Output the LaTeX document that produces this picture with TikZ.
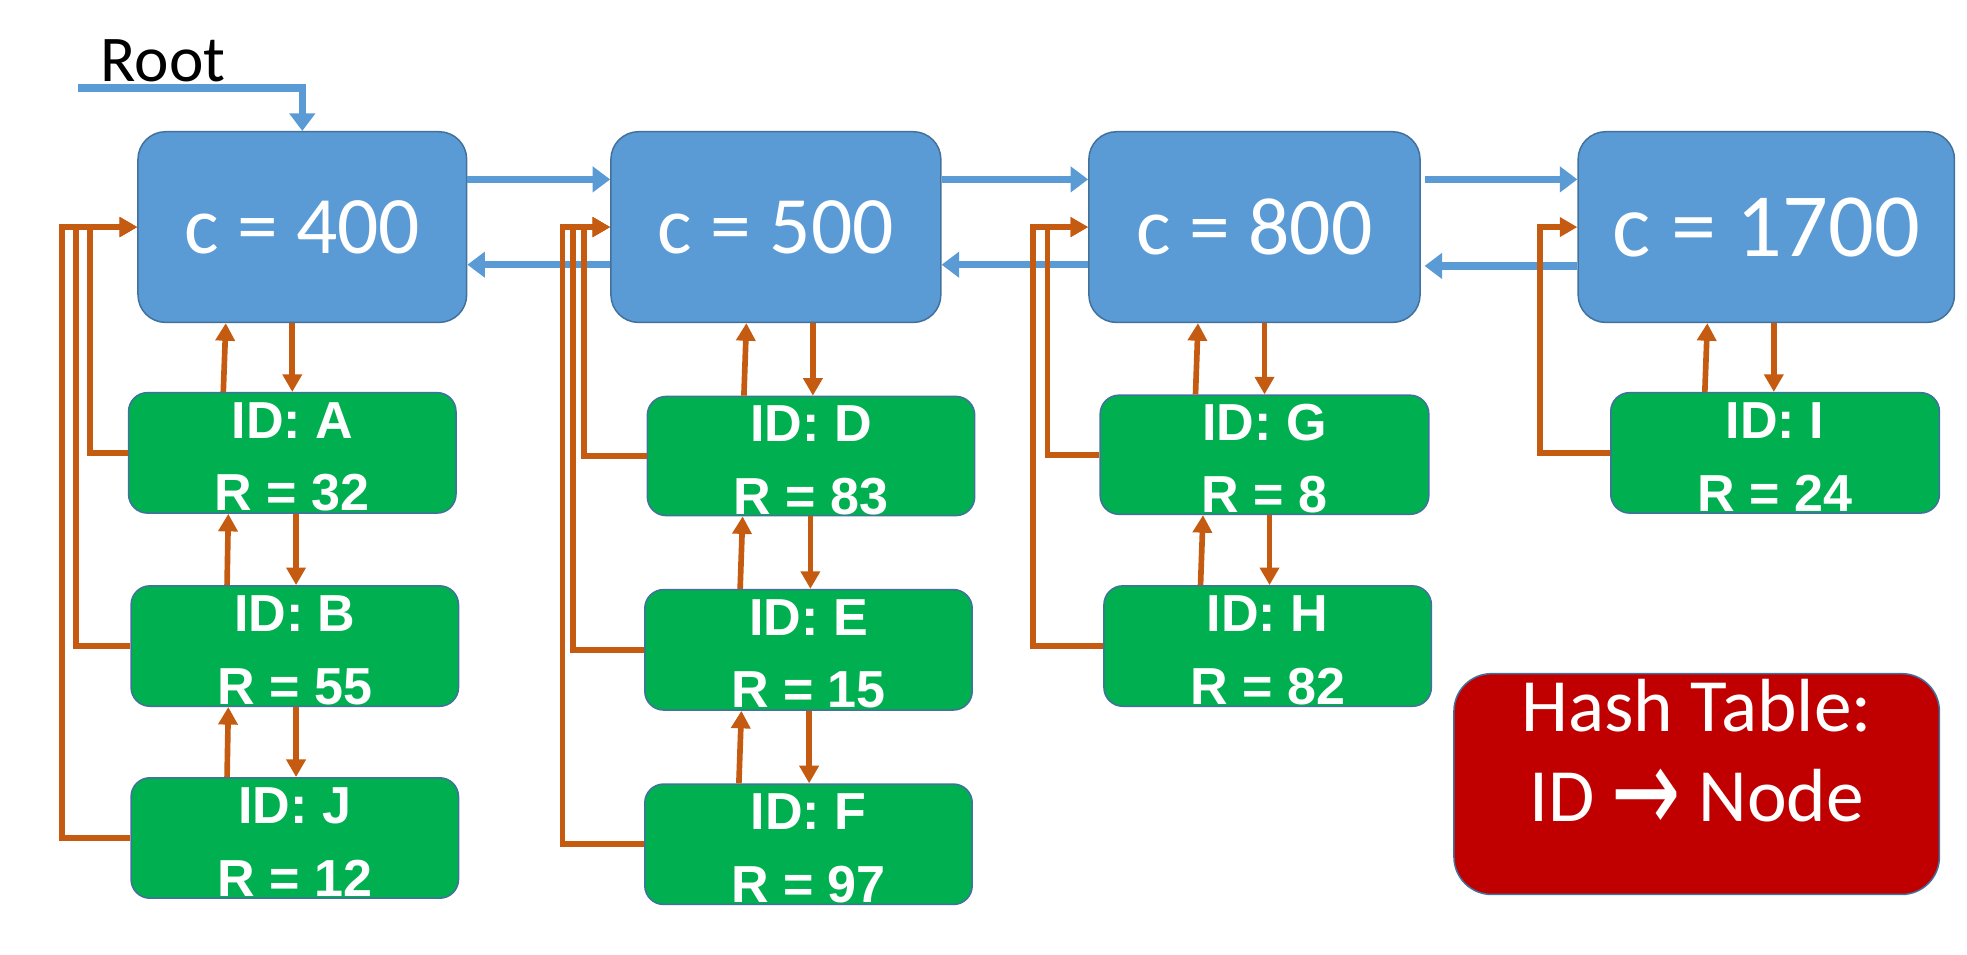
\documentclass[tikz,border=0pt]{standalone}
\usepackage{fontspec}
\setmainfont{Carlito}
\newfontfamily\lsans{Liberation Sans}
\newfontfamily\dejavu{DejaVu Sans}
\usetikzlibrary{arrows.meta,calc}
\definecolor{boxblue}{HTML}{5B9BD5}
\definecolor{edgeblue}{HTML}{41719C}
\definecolor{boxgreen}{HTML}{00B050}
\definecolor{boxred}{HTML}{C00000}
\definecolor{linkorange}{HTML}{C55A11}
\newcommand\gstrut{\rule{0pt}{35pt}}
\begin{document}
\begin{tikzpicture}[x=1pt,y=-1pt,
  cbox/.style={draw=edgeblue, line width=1.2pt, fill=boxblue, rounded corners=22pt,
    minimum height=152pt, text=white, font=\fontsize{65}{78}\selectfont, inner sep=0pt},
  gbox/.style={draw=edgeblue, line width=1.2pt, fill=boxgreen, rounded corners=15pt,
    minimum width=261pt, minimum height=96pt, text=white, align=center,
    font=\lsans\bfseries\fontsize{41.5}{58}\selectfont, inner sep=0pt},
  hbox/.style={draw=edgeblue, line width=1.2pt, fill=boxred, rounded corners=30pt,
    minimum width=387pt, minimum height=176pt, text=white, align=center,
    font=\fontsize{60}{72}\selectfont, inner sep=0pt},
  blink/.style={draw=boxblue, line width=6pt, line join=miter,
    -{Triangle[length=14pt,width=20pt]}},
  olink/.style={draw=linkorange, line width=4.5pt, line join=miter,
    -{Triangle[length=14pt,width=15pt]}}
]
\useasboundingbox (0,0) rectangle (1568,761);

% top-level nodes
\node[cbox, minimum width=262pt] (B1) at (241,181) {c = 400};
\node[cbox, minimum width=263pt] (B2) at (618.5,181) {c = 500};
\node[cbox, minimum width=264pt] (B3) at (1000,181) {c = 800};
\node[cbox, minimum width=300pt, font=\fontsize{72}{86}\selectfont] (B4) at (1408,181) {c = 1700};

% green nodes
\node[gbox] (A) at (233,361) {\gstrut ID: A\\R = 32};
\node[gbox] (B) at (235,515) {\gstrut ID: B\\R = 55};
\node[gbox] (J) at (235,668) {\gstrut ID: J\\R = 12};
\node[gbox, minimum height=95pt] (D) at (646.5,363.5) {\gstrut ID: D\\R = 83};
\node[gbox] (E) at (644.5,518) {\gstrut ID: E\\R = 15};
\node[gbox] (F) at (644.5,673) {\gstrut ID: F\\R = 97};
\node[gbox, minimum width=262pt, minimum height=95pt] (G) at (1008,362.5) {\gstrut ID: G\\R = 8};
\node[gbox] (H) at (1010.5,515) {\gstrut ID: H\\R = 82};
\node[gbox, minimum width=262pt] (I) at (1415,361) {\gstrut ID: I\\R = 24};

% hash table
\node[hbox] (ht) at (1352.5,625) {Hash Table:\\ID \raisebox{-9pt}{\scalebox{1.1}[1.6]{\dejavu →}} Node\rule[-54pt]{0pt}{54pt}};

% root
\node[anchor=base west, inner sep=0pt, font=\fontsize{52}{62}\selectfont] (root) at (80,65) {Root};
\coordinate (rootstart) at (62,70);
\draw[blink] (rootstart) -| (B1.north);

% blue links
\draw[blink] ([yshift=38pt]B1.east) -- ([yshift=38pt]B2.west);
\draw[blink] ([yshift=-30pt]B2.west) -- ([yshift=-30pt]B1.east);
\draw[blink] ([yshift=38pt]B2.east) -- ([yshift=38pt]B3.west);
\draw[blink] ([yshift=-30pt]B3.west) -- ([yshift=-30pt]B2.east);
\draw[blink] ([xshift=3pt,yshift=38pt]B3.east) -- ([yshift=38pt]B4.west);
\draw[blink] ([yshift=-31pt]B4.west) -- ([xshift=3pt,yshift=-31pt]B3.east);

% orange vertical links, column 1
\draw[olink] (B1.south -| A.north) -- (A.north);
\draw[olink] ($(A.north)+(-55,0)$) -- ($(B1.south -| A.north)+(-53,0)$);
\draw[olink] ($(A.south -| B.north)+(1,0)$) -- ($(B.north)+(1,0)$);
\draw[olink] ($(B.north)+(-54,0)$) -- ($(A.south -| B.north)+(-53,0)$);
\draw[olink] ($(B.south -| J.north)+(1,0)$) -- ($(J.north)+(1,0)$);
\draw[olink] ($(J.north)+(-54,0)$) -- ($(B.south -| J.north)+(-53,0)$);

% column 2
\draw[olink] ($(B2.south -| D.north)+(1.5,0)$) -- ($(D.north)+(1.5,0)$);
\draw[olink] ($(D.north)+(-53.5,0)$) -- ($(B2.south -| D.north)+(-51.5,0)$);
\draw[olink] ($(D.south -| E.north)+(1.5,0)$) -- ($(E.north)+(1.5,0)$);
\draw[olink] ($(E.north)+(-54.5,0)$) -- ($(D.south -| E.north)+(-52.5,0)$);
\draw[olink] ($(E.south -| F.north)+(0.5,0)$) -- ($(F.north)+(0.5,0)$);
\draw[olink] ($(F.north)+(-55.5,0)$) -- ($(E.south -| F.north)+(-53.5,0)$);

% column 3
\draw[olink] (B3.south -| G.north) -- (G.north);
\draw[olink] ($(G.north)+(-55,0)$) -- ($(B3.south -| G.north)+(-53,0)$);
\draw[olink] ($(G.south -| H.north)+(1.5,0)$) -- ($(H.north)+(1.5,0)$);
\draw[olink] ($(H.north)+(-53.5,0)$) -- ($(G.south -| H.north)+(-51.5,0)$);

% column 4
\draw[olink] ($(B4.south -| I.north)+(-1,0)$) -- ($(I.north)+(-1,0)$);
\draw[olink] ($(I.north)+(-56,0)$) -- ($(B4.south -| I.north)+(-54,0)$);

% back links to the list node
\draw[olink] (A.west) -| ($(B1.west)+(-37.5,0)$) -- (B1.west);
\draw[olink] (B.west) -| ($(B1.west)+(-49,0)$) -- (B1.west);
\draw[olink] (J.west) -| ($(B1.west)+(-60,0)$) -- (B1.west);
\draw[olink] (D.west) -| ($(B2.west)+(-21,0)$) -- (B2.west);
\draw[olink] (E.west) -| ($(B2.west)+(-29.5,0)$) -- (B2.west);
\draw[olink] (F.west) -| ($(B2.west)+(-38,0)$) -- (B2.west);
\draw[olink] (G.west) -| ($(B3.west)+(-32.5,0)$) -- (B3.west);
\draw[olink] (H.west) -| ($(B3.west)+(-44,0)$) -- (B3.west);
\draw[olink] (I.west) -| ($(B4.west)+(-30,0)$) -- (B4.west);
\end{tikzpicture}
\end{document}
